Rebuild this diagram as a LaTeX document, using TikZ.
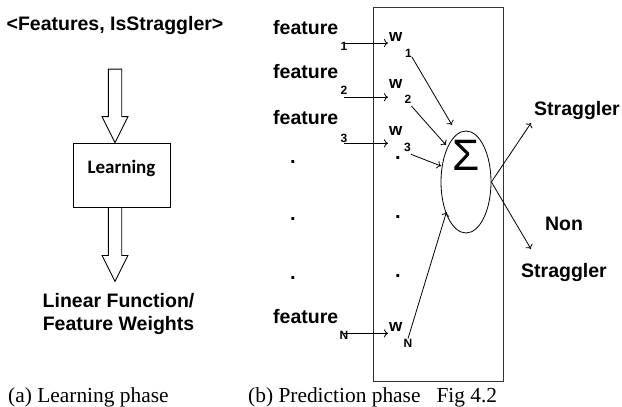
\documentclass[tikz,border=0pt]{standalone}
\usepackage{fontspec}
\setmainfont{Liberation Serif}
\setsansfont{Liberation Sans}
\newfontfamily\calibrifont{Carlito}
\usetikzlibrary{arrows.meta,shapes.geometric}

\begin{document}
\begin{tikzpicture}[x=1pt, y=-1pt,
    lab/.style = {inner sep=0pt, font=\sffamily\bfseries\fontsize{19.5}{23}\selectfont},
    sub/.style = {inner sep=0pt, font=\sffamily\bfseries\fontsize{12}{12}\selectfont},
    wlab/.style = {inner sep=1pt, font=\sffamily\bfseries\fontsize{17}{17}\selectfont},
    dotlab/.style = {inner sep=0pt, font=\sffamily\bfseries\fontsize{20}{20}\selectfont},
    captext/.style = {inner sep=0pt, font=\rmfamily\fontsize{21.4}{24}\selectfont},
    hollow/.style = {draw, fill=white, line width=0.9pt},
    arr/.style = {-{To[length=4pt,width=8pt]}, line width=0.8pt}]
    \useasboundingbox (0,0) rectangle (622,407);

    % learning phase
    \node[lab, anchor=base] (title) at (115,30) {<Features, IsStraggler>};
    \node[draw, line width=0.9pt, minimum width=97pt, minimum height=64pt, text height=13pt, text depth=17pt, font=\calibrifont\bfseries\fontsize{19}{19}\selectfont] (learn) at (121.5,175) {Learning};
    \node[lab, align=center] (result) at (118.5,313.5) {Linear Function/\\Feature Weights};

    \draw[hollow] (title.base |- learn.north) -- ++(-13,-26) -- ++(6.3,0) -- ++(0,-47.4) -- ++(13.4,0) -- ++(0,47.4) -- ++(6.3,0) -- cycle;
    \draw[hollow] (title.base |- learn.south) ++(-6.7,0) -- ++(0,48) -- ++(-6.3,0) -- ++(13,26) -- ++(13,-26) -- ++(-6.3,0) -- ++(0,-48) -- cycle;

    % prediction phase
    \node[draw=black!80, line width=1pt, minimum width=130pt, minimum height=374pt] (box) at (438,194) {};

    \node[lab, anchor=base west] (f1) at (273,34) {feature};
    \node[lab, anchor=base west] (f2) at (273,78) {feature};
    \node[lab, anchor=base west] (f3) at (273,124) {feature};
    \node[lab, anchor=base west] (fN) at (273,323) {feature};
    \node[sub, anchor=base] (f1s) at (344,50) {1};
    \node[sub, anchor=base] (f2s) at (344,94) {2};
    \node[sub, anchor=base] (f3s) at (344,142) {3};
    \node[sub, anchor=base] (fNs) at (344,339) {N};

    \node[wlab, anchor=base west] (w1) at (388,41) {w};
    \node[wlab, anchor=base west] (w2) at (388,88) {w};
    \node[wlab, anchor=base west] (w3) at (388,135) {w};
    \node[wlab, anchor=base west] (wN) at (388,331) {w};
    \node[sub, anchor=base] (w1s) at (408.5,57) {1};
    \node[sub, anchor=base] (w2s) at (408,103) {2};
    \node[sub, anchor=base] (w3s) at (407.5,151) {3};
    \node[sub, anchor=base] (wNs) at (408,347) {N};

    \node[dotlab] (dl1) at (293,162) {.};
    \node[dotlab] (dl2) at (293,219) {.};
    \node[dotlab] (dl3) at (293,278) {.};
    \node[dotlab] (dr1) at (398,158) {.};
    \node[dotlab] (dr2) at (398,217) {.};
    \node[dotlab] (dr3) at (398,276) {.};

    \draw[arr] ([yshift=-1.5pt]f1s.north) -- ([yshift=-1.5pt]f1s.north -| w1.west);
    \draw[arr] ([yshift=-3pt]f2s.south) -- ([yshift=-3pt]f2s.south -| w2.west);
    \draw[arr] ([yshift=-1pt]f3s.south) -- ([yshift=-1pt]f3s.south -| w3.west);
    \draw[arr] ([yshift=1.5pt]fNs.center) -- ([yshift=1.5pt]fNs.center -| wN.west);

    \node[draw, ellipse, line width=0.8pt, minimum width=50pt, minimum height=102pt, inner sep=0pt] (sum) at (466,182) {};
    \node[inner sep=0pt, font=\sffamily\fontsize{44}{44}\selectfont] (sigma) at (466,155) {Σ};

    \coordinate (in1) at (452,125);
    \coordinate (in2) at (446,145);
    \coordinate (in3) at (441,166);
    \coordinate (inN) at (446.5,212);
    \draw[arr] (w1s.south east) -- (in1);
    \draw[arr] ([yshift=-3pt]w2s.south east) -- (in2);
    \draw[arr] ([yshift=-3pt]w3s.south east) -- (in3);
    \draw[arr] (wNs.north) -- (inN);

    \node[lab, anchor=base west] (strag) at (534,115) {Straggler};
    \node[lab, anchor=base] (non) at (564,230) {Non};
    \node[lab, anchor=base] (nonstrag) at (564,277) {Straggler};
    \coordinate (out1) at (531,123);
    \coordinate (out2) at (531,249);
    \draw[arr] (sum.east) -- (out1);
    \draw[arr] (sum.east) -- (out2);

    % captions
    \node[captext, anchor=base west] (capa) at (8,402.5) {(a) Learning phase};
    \node[captext, anchor=base west] (capb) at (248,402.5) {(b) Prediction phase\hspace{16pt}Fig 4.2};
\end{tikzpicture}
\end{document}
